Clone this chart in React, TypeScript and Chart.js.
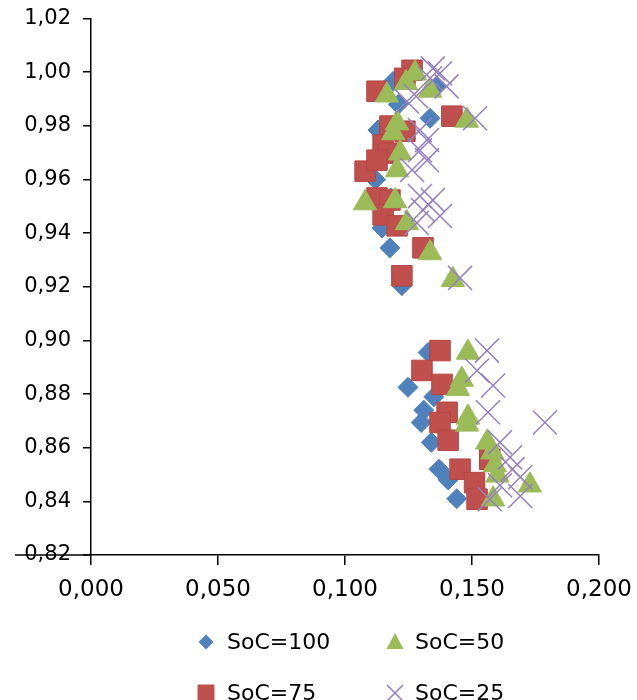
import React, { useEffect, useRef } from 'react';
import { Chart, registerables } from 'chart.js';

Chart.register(...registerables);

// ---- data ----
const seriesNames = ['SoC=100', 'SoC=75', 'SoC=50', 'SoC=25'];

const xTickValues = [0, 0.05, 0.1, 0.15, 0.2];
const xTickLabels = ['0,000', '0,050', '0,100', '0,150', '0,200'];
const yTickValues = [0.82, 0.84, 0.86, 0.88, 0.9, 0.92, 0.94, 0.96, 0.98, 1.0, 1.02];
const yTickLabels = ['0,82', '0,84', '0,86', '0,88', '0,90', '0,92', '0,94', '0,96', '0,98', '1,00', '1,02'];

const soc100X = [0.113, 0.1335, 0.1146, 0.1177, 0.119, 0.1224, 0.136, 0.115, 0.112, 0.118, 0.121,
  0.1248, 0.130, 0.134, 0.137, 0.1406, 0.144, 0.1327, 0.131, 0.135];
const soc100Y = [0.9784, 0.9828, 0.9419, 0.9345, 0.9966, 0.9204, 0.9947, 0.969, 0.960, 0.9531, 0.988,
  0.8825, 0.8694, 0.862, 0.852, 0.848, 0.841, 0.8955, 0.874, 0.879];

const soc75X = [0.1264, 0.1236, 0.1126, 0.1421, 0.1177, 0.1236, 0.115, 0.117, 0.1079, 0.1126, 0.1126,
  0.1177, 0.115, 0.1205, 0.1307, 0.1224,
  0.1374, 0.1303, 0.1382, 0.1402, 0.1374, 0.1406, 0.1453, 0.151, 0.152, 0.157];
const soc75Y = [1.0007, 0.9977, 0.9929, 0.9836, 0.9799, 0.978, 0.9728, 0.9698, 0.9631, 0.9672, 0.9531,
  0.9523, 0.9468, 0.9427, 0.9345, 0.9241,
  0.8962, 0.8888, 0.8836, 0.8732, 0.8694, 0.8628, 0.852, 0.847, 0.8408, 0.8557];

const soc50X = [0.1276, 0.1335, 0.1165, 0.148, 0.119, 0.1217, 0.1205, 0.1079, 0.1197, 0.1244, 0.1335,
  0.1425, 0.124, 0.1205,
  0.1484, 0.146, 0.1445, 0.1484, 0.148, 0.156, 0.158, 0.159, 0.160, 0.1728, 0.1583];
const soc50Y = [0.9996, 0.9932, 0.9914, 0.982, 0.9773, 0.9698, 0.9635, 0.9512, 0.952, 0.9438, 0.9326,
  0.9226, 0.996, 0.981,
  0.8955, 0.8854, 0.882, 0.8713, 0.8687, 0.862, 0.8583, 0.8535, 0.8497, 0.846, 0.8408];

const soc25X = [0.1346, 0.1374, 0.1335, 0.140, 0.1244, 0.1512, 0.1295, 0.1323, 0.1295, 0.1323, 0.1264,
  0.1295, 0.1346, 0.1307, 0.1374, 0.1283, 0.1453, 0.128,
  0.1559, 0.152, 0.1583, 0.1563, 0.1787, 0.161, 0.165, 0.166, 0.169, 0.161, 0.169, 0.157];
const soc25Y = [1.0014, 0.9996, 0.9977, 0.9947, 0.9891, 0.9828, 0.9784, 0.9747, 0.9709, 0.9672, 0.9635,
  0.9538, 0.9523, 0.9486, 0.9464, 0.9438, 0.9233, 0.991,
  0.8962, 0.8888, 0.8832, 0.8732, 0.8694, 0.862, 0.8564, 0.852, 0.849, 0.846, 0.842, 0.8408];

// ---- styles ----
const BLUE = '#4F81BD';
const RED = '#C0504D';
const GREEN = '#9BBB59';
const PURPLE = '#9580BE';
const FONT = '"DejaVu Sans", Verdana, sans-serif';

const pts = (xs: number[], ys: number[]) => xs.map((x, i) => ({ x, y: ys[i] }));

// legend entries: [seriesIndex, column, row]
const legendLayout = [
  [0, 0, 0],
  [2, 1, 0],
  [1, 0, 1],
  [3, 1, 1],
];

function drawMarker(ctx: CanvasRenderingContext2D, kind: number, x: number, y: number) {
  ctx.save();
  if (kind === 0) {
    const r = 7.5;
    ctx.fillStyle = BLUE;
    ctx.beginPath();
    ctx.moveTo(x, y - r); ctx.lineTo(x + r, y); ctx.lineTo(x, y + r); ctx.lineTo(x - r, y);
    ctx.closePath(); ctx.fill();
  } else if (kind === 1) {
    const s = 8.5;
    ctx.fillStyle = RED;
    ctx.fillRect(x - s, y - s, 2 * s, 2 * s);
  } else if (kind === 2) {
    ctx.fillStyle = GREEN;
    ctx.beginPath();
    ctx.moveTo(x, y - 9); ctx.lineTo(x + 8.5, y + 7); ctx.lineTo(x - 8.5, y + 7);
    ctx.closePath(); ctx.fill();
  } else {
    const r = 8;
    ctx.strokeStyle = PURPLE;
    ctx.lineWidth = 1.5;
    ctx.beginPath();
    ctx.moveTo(x - r, y - r); ctx.lineTo(x + r, y + r);
    ctx.moveTo(x + r, y - r); ctx.lineTo(x - r, y + r);
    ctx.stroke();
  }
  ctx.restore();
}

const customDecor = {
  id: 'customDecor',
  afterDraw(chart: any) {
    const ctx = chart.ctx as CanvasRenderingContext2D;
    const area = chart.chartArea;
    const yScale = chart.scales.y;
    const yb = yScale.getPixelForValue(yTickValues[0]);
    // horizontal axis line extends left through the bottom label
    ctx.save();
    ctx.strokeStyle = '#000';
    ctx.lineWidth = 1.5;
    ctx.beginPath();
    ctx.moveTo(15, yb);
    ctx.lineTo(area.left, yb);
    ctx.stroke();
    ctx.restore();

    // legend
    const colMarker = [206, 395];
    const colText = [227, 415];
    const rowY = [642, 693];
    ctx.save();
    ctx.font = '22px ' + FONT;
    ctx.fillStyle = '#000';
    ctx.textBaseline = 'middle';
    ctx.textAlign = 'left';
    legendLayout.forEach(([si, c, r]) => {
      drawMarker(ctx, si, colMarker[c], rowY[r]);
      ctx.fillText(seriesNames[si], colText[c], rowY[r] + 1);
    });
    ctx.restore();
  },
};

export default function App() {
  const ref = useRef<HTMLCanvasElement | null>(null);

  useEffect(() => {
    if (!ref.current) return;
    const chart = new Chart(ref.current, {
      type: 'scatter',
      data: {
        datasets: [
          {
            label: seriesNames[0],
            data: pts(soc100X, soc100Y),
            pointStyle: 'rectRot',
            pointRadius: 10,
            backgroundColor: BLUE,
            borderColor: BLUE,
            borderWidth: 1,
            order: 4,
          },
          {
            label: seriesNames[1],
            data: pts(soc75X, soc75Y),
            pointStyle: 'rect',
            pointRadius: 14.5,
            backgroundColor: RED,
            borderColor: '#B54643',
            borderWidth: 1,
            order: 3,
          },
          {
            label: seriesNames[2],
            data: pts(soc50X, soc50Y),
            pointStyle: 'triangle',
            pointRadius: 13.5,
            backgroundColor: GREEN,
            borderColor: GREEN,
            borderWidth: 1,
            order: 2,
          },
          {
            label: seriesNames[3],
            data: pts(soc25X, soc25Y),
            pointStyle: 'crossRot',
            pointRadius: 17,
            backgroundColor: PURPLE,
            borderColor: PURPLE,
            borderWidth: 1.5,
            order: 1,
          },
        ],
      },
      options: {
        animation: false,
        responsive: false,
        maintainAspectRatio: false,
        layout: { padding: { top: 16, right: 38, left: 0, bottom: 0 } },
        plugins: {
          legend: { display: false },
          tooltip: { enabled: false },
        },
        scales: {
          x: {
            type: 'linear',
            min: xTickValues[0],
            max: xTickValues[xTickValues.length - 1],
            afterBuildTicks: (s: any) => { s.ticks = xTickValues.map((v) => ({ value: v })); },
            afterFit: (s: any) => { s.height = 145; s.paddingLeft = 0; s.paddingRight = 0; },
            grid: { display: true, drawOnChartArea: false, drawTicks: true, tickLength: 10, color: '#000', lineWidth: 1.5 },
            border: { display: true, color: '#000', width: 1.5 },
            ticks: {
              color: '#000',
              font: { family: FONT, size: 23 },
              padding: 11,
              maxRotation: 0,
              autoSkip: false,
              callback: (_v: any, i: number) => xTickLabels[i],
            },
          },
          y: {
            type: 'linear',
            min: yTickValues[0],
            max: yTickValues[yTickValues.length - 1],
            afterBuildTicks: (s: any) => { s.ticks = yTickValues.map((v) => ({ value: v })); },
            afterFit: (s: any) => { s.width = 91; s.paddingTop = 0; s.paddingBottom = 0; },
            grid: { display: true, drawOnChartArea: false, drawTicks: true, tickLength: 8, color: '#000', lineWidth: 1.5 },
            border: { display: true, color: '#000', width: 1.5 },
            ticks: {
              color: '#000',
              font: { family: FONT, size: 21 },
              padding: 12,
              autoSkip: false,
              callback: (_v: any, i: number) => yTickLabels[i],
            },
          },
        },
      },
      plugins: [customDecor],
    });
    return () => chart.destroy();
  }, []);

  return (
    <div style={{ position: 'absolute', left: 0, top: 0, width: 637, height: 700, background: '#fff' }}>
      <canvas ref={ref} width={637} height={700} style={{ display: 'block', width: 637, height: 700 }} />
    </div>
  );
}
